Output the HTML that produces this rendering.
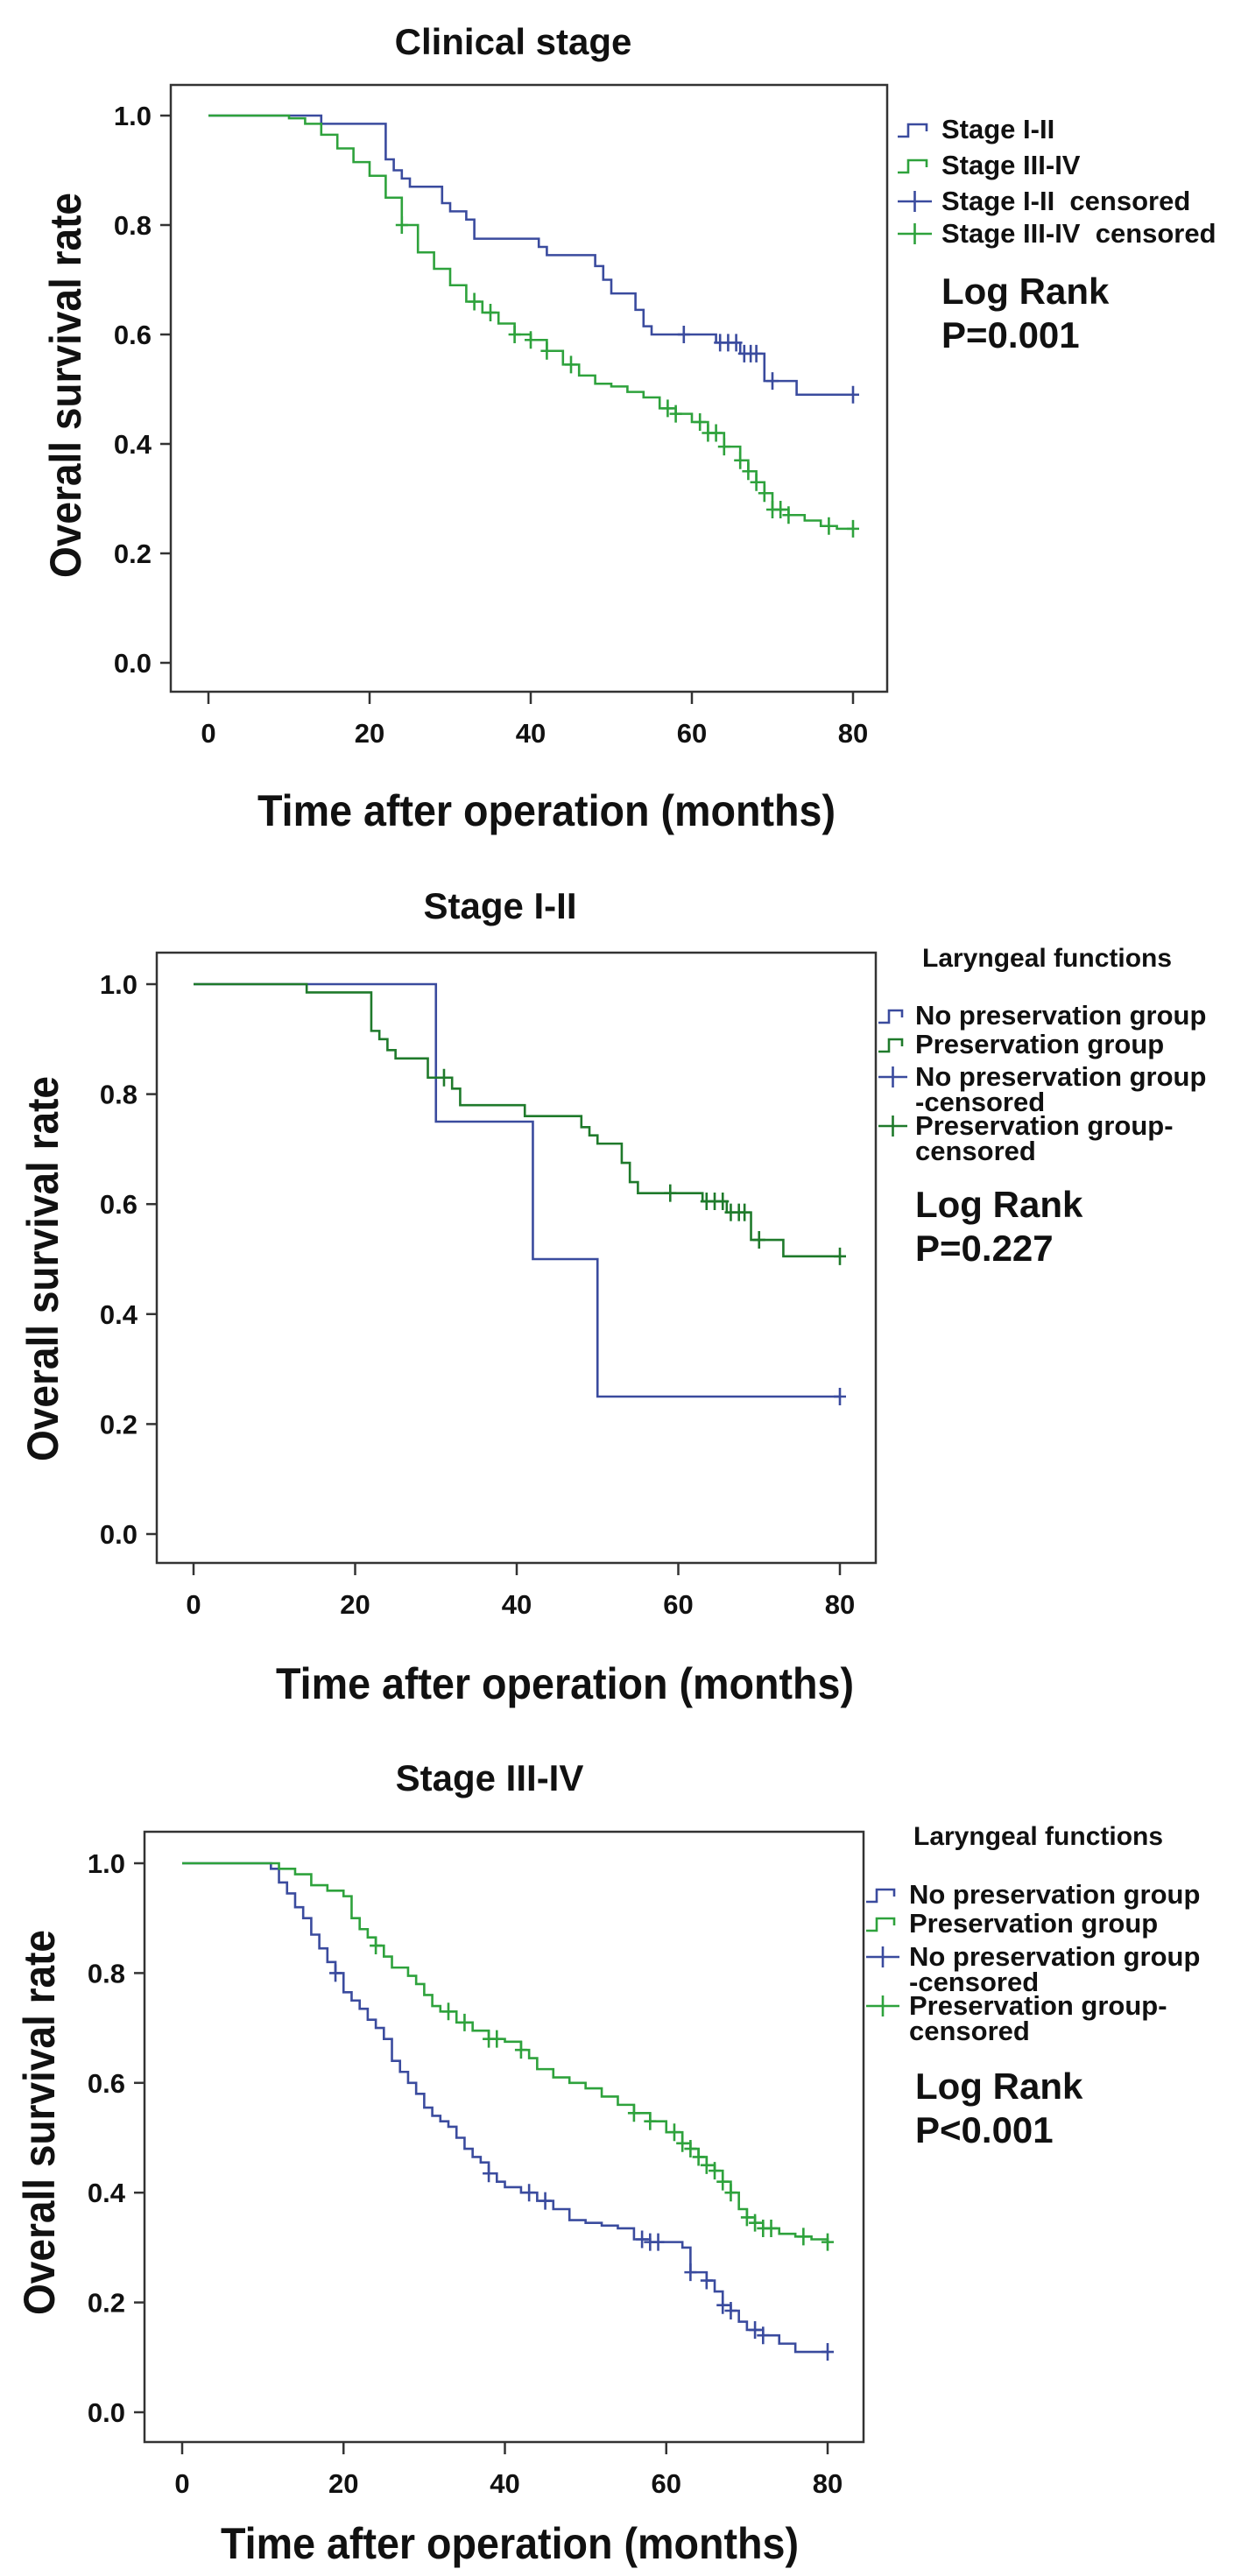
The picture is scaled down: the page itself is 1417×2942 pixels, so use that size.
<!DOCTYPE html>
<html><head><meta charset="utf-8"><style>
html,body{margin:0;padding:0;background:#fff}
svg{display:block}
text{font-family:"Liberation Sans Narrow","Liberation Sans",sans-serif;font-weight:bold;fill:#111}
.yt{font-family:"Liberation Sans",sans-serif}
</style></head><body>
<svg id="fig" width="1417" height="2942" viewBox="0 0 1417 2942" xmlns="http://www.w3.org/2000/svg"></svg>
<script>
// ---- Panel 1: Clinical stage ----
const p1StageIT=[0,14,22,23,24,25,29,30,32,33,41,42,48,49,50,53,54,55,63,66,69,73,80];
const p1StageIV=[1,0.985,0.92,0.90,0.885,0.87,0.84,0.825,0.81,0.775,0.76,0.745,0.725,0.70,0.675,0.645,0.615,0.60,0.585,0.565,0.515,0.49,0.49];
const p1StageICens=[59,63.5,64.5,65.5,66.5,67.3,68,70,80];
const p1StageIIIT=[0,8,10,12,14,16,18,20,22,24,26,28,30,32,34,36,38,40,42,44,46,48,50,52,54,56,58,60,62,64,66,67,68,69,70,72,74,76,78,80];
const p1StageIIIV=[1,1,0.995,0.985,0.965,0.94,0.915,0.89,0.85,0.80,0.75,0.72,0.69,0.66,0.64,0.62,0.60,0.59,0.57,0.545,0.525,0.51,0.505,0.495,0.485,0.465,0.455,0.44,0.42,0.395,0.37,0.35,0.33,0.31,0.28,0.27,0.26,0.25,0.245,0.245];
const p1StageIIICens=[24,33,35,38,40,42,45,57,58,61,62,63,64,66,67,68,69,70,71,72,77,80];
// ---- Panel 2: Stage I-II ----
const p2NoT=[0,30,42,50,80];
const p2NoV=[1,0.75,0.5,0.25,0.25];
const p2NoCens=[80];
const p2PresT=[0,14,22,23,24,25,29,32,33,41,48,49,50,53,54,55,63,66,69,73,80];
const p2PresV=[1,0.985,0.915,0.90,0.88,0.865,0.83,0.81,0.78,0.76,0.74,0.725,0.71,0.675,0.64,0.62,0.605,0.585,0.535,0.505,0.505];
const p2PresCens=[31,59,63.5,64.5,65.5,66.5,67.5,68.2,70,80];
// ---- Panel 3: Stage III-IV ----
const p3NoT=[0,10,11,12,13,14,15,16,17,18,19,20,21,22,23,24,25,26,27,28,29,30,31,32,33,34,35,36,37,38,39,40,42,44,46,48,50,52,54,56,58,62,63,65,66,67,68,69,70,72,74,76,80];
const p3NoV=[1,1,0.99,0.965,0.945,0.92,0.90,0.87,0.845,0.82,0.80,0.765,0.75,0.735,0.715,0.70,0.68,0.64,0.62,0.60,0.58,0.555,0.54,0.53,0.52,0.50,0.48,0.465,0.455,0.435,0.42,0.41,0.40,0.385,0.37,0.35,0.345,0.34,0.335,0.315,0.31,0.30,0.255,0.24,0.22,0.195,0.185,0.165,0.15,0.14,0.125,0.11,0.11];
const p3NoCens=[19,38,43,45,57,58,59,63,65,67,68,71,72,80];
const p3PresT=[0,10,12,14,16,18,20,21,22,23,24,25,26,28,29,30,31,32,34,36,38,40,42,43,44,46,48,50,52,54,56,58,60,62,63,64,65,66,67,68,69,70,71,72,74,76,78,80];
const p3PresV=[1,1,0.99,0.98,0.96,0.95,0.94,0.90,0.88,0.865,0.85,0.83,0.81,0.795,0.78,0.76,0.74,0.73,0.71,0.695,0.68,0.675,0.66,0.645,0.625,0.61,0.60,0.59,0.575,0.56,0.545,0.53,0.51,0.49,0.48,0.465,0.45,0.44,0.42,0.40,0.37,0.355,0.345,0.335,0.325,0.32,0.315,0.31];
const p3PresCens=[24,33,35,38,39,42,56,58,61,62,63,64,65,66,67,68,70,71,72,73,77,80];
const xTicks=[0,20,40,60,80];
const yTicks=[0,0.2,0.4,0.6,0.8,1.0];

const NS="http://www.w3.org/2000/svg";
const svg=document.getElementById('fig');
function mk(tag,attrs,parent){const e=document.createElementNS(NS,tag);for(const k in attrs)e.setAttribute(k,attrs[k]);(parent||svg).appendChild(e);return e;}
function txt(s,attrs,parent){const e=mk('text',attrs,parent);e.textContent=s;return e;}

function stepAt(T,V,t){let v=V[0];for(let i=0;i<T.length;i++){if(T[i]<=t)v=V[i];}return v;}

function panel(cfg){
  const g=mk('g',{});
  
  
  const sx=m=>cfg.x0+(m/80)*(cfg.x80-cfg.x0);
  const Y=v=>cfg.y0-(v)*(cfg.y0-cfg.y1);
  const fr=mk('rect',{x:cfg.L,y:cfg.T,width:cfg.R-cfg.L,height:cfg.B-cfg.T,fill:'none',stroke:'#333','stroke-width':2.5},g);
  
  
  const t=txt(cfg.title,{x:cfg.titleX,y:cfg.titleY,'text-anchor':'middle','font-size':42},g);
  
  
  yTicks.forEach(v=>{
    mk('line',{x1:cfg.L-12,x2:cfg.L,y1:Y(v),y2:Y(v),stroke:'#333','stroke-width':2.5},g);
    const l=txt(v.toFixed(1),{x:cfg.L-22,y:Y(v)+11,'text-anchor':'end','font-size':31},g);
    
    
  });
  xTicks.forEach(m=>{
    mk('line',{x1:sx(m),x2:sx(m),y1:cfg.B,y2:cfg.B+14,stroke:'#333','stroke-width':2.5},g);
    const l=txt(String(m),{x:sx(m),y:cfg.B+58,'text-anchor':'middle','font-size':31},g);
    
    
  });
  const yt=txt('Overall survival rate',{x:0,y:0,'text-anchor':'middle','font-size':50,'class':'yt',textLength:440,lengthAdjust:'spacingAndGlyphs',transform:`translate(${cfg.ytX},${cfg.ytY}) rotate(-90)`},g);
  
  
  const xt=txt('Time after operation (months)',{x:cfg.xtX,y:cfg.xtY,'text-anchor':'middle','font-size':50,textLength:660,lengthAdjust:'spacingAndGlyphs'},g);
  
  
  cfg.series.forEach(s=>{
    let d=`M${sx(s.T[0])},${Y(s.V[0])}`;
    for(let i=1;i<s.T.length;i++){d+=` H${sx(s.T[i])} V${Y(s.V[i])}`;}
    const p=mk('path',{d:d,fill:'none',stroke:s.color,'stroke-width':2.6},g);
    
    
    s.C.forEach(c=>{
      const v=stepAt(s.T,s.V,c);
      const cm=mk('path',{d:`M${sx(c)},${Y(v)-10} V${Y(v)+10} M${sx(c)-7},${Y(v)} H${sx(c)+7}`,stroke:s.color,'stroke-width':2.6},g);
      
      
    });
  });
  if(cfg.legTitle){
    const lt=txt(cfg.legTitle,{x:cfg.legTitleX,y:cfg.legTitleY,'font-size':30},g);
    
    
  }
  cfg.legend.forEach(e=>{
    const lg=mk('g',{},g);
    
    
    const ly=e.y-10;
    if(e.type==='line'){
      mk('path',{d:`M${cfg.legX0},${ly+8} H${cfg.legX0+12} V${ly-6} H${cfg.legX1-6} V${ly+2}`,fill:'none',stroke:e.color,'stroke-width':2.6},lg);
    }else{
      mk('path',{d:`M${cfg.legX0},${ly} H${cfg.legX1} M${(cfg.legX0+cfg.legX1)/2},${ly-12} V${ly+12}`,stroke:e.color,'stroke-width':2.6},lg);
    }
    e.lines.forEach((s,i)=>txt(s,{x:cfg.legTX,y:e.y+i*29,'font-size':31},lg));
  });
  const lr=txt('Log Rank',{x:cfg.lrX,y:cfg.lrY,'font-size':42},g);
  
  
  const pv=txt(cfg.p,{x:cfg.lrX,y:cfg.lrY+50,'font-size':42},g);
  
  
}
const BLUE='#3a4b9e', GREEN='#2ea23c', DGREEN='#1f7a2b';
panel({name:'clinical-stage-chart',title:'Clinical stage',titleX:586,titleY:62,L:195,R:1013,T:97,B:790,x0:238,x80:974,y0:757,y1:132,
 ytX:92,ytY:440,xtX:624,xtY:943,
 series:[{name:'stage-i-ii',T:p1StageIT,V:p1StageIV,C:p1StageICens,color:BLUE},{name:'stage-iii-iv',T:p1StageIIIT,V:p1StageIIIV,C:p1StageIIICens,color:GREEN}],
 legX0:1025,legX1:1064,legTX:1075,
 legend:[{type:'line',color:BLUE,y:158,lines:['Stage I-II']},{type:'line',color:GREEN,y:199,lines:['Stage III-IV']},{type:'cross',color:BLUE,y:240,lines:['Stage I-II\u00a0 censored']},{type:'cross',color:GREEN,y:277,lines:['Stage III-IV\u00a0 censored']}],
 lrX:1075,lrY:347,p:'P=0.001'});
panel({name:'stage-i-ii-chart',title:'Stage I-II',titleX:571,titleY:1049,L:179,R:1000,T:1088,B:1785,x0:221,x80:959,y0:1752,y1:1124,
 ytX:66,ytY:1449,xtX:645,xtY:1940,
 series:[{name:'no-preservation',T:p2NoT,V:p2NoV,C:p2NoCens,color:BLUE},{name:'preservation',T:p2PresT,V:p2PresV,C:p2PresCens,color:DGREEN}],
 legTitle:'Laryngeal functions',legTitleX:1053,legTitleY:1104,
 legX0:1003,legX1:1036,legTX:1045,
 legend:[{type:'line',color:BLUE,y:1170,lines:['No preservation group']},{type:'line',color:DGREEN,y:1203,lines:['Preservation group']},{type:'cross',color:BLUE,y:1240,lines:['No preservation group','-censored']},{type:'cross',color:DGREEN,y:1296,lines:['Preservation group-','censored']}],
 lrX:1045,lrY:1390,p:'P=0.227'});
panel({name:'stage-iii-iv-chart',title:'Stage III-IV',titleX:559,titleY:2045,L:165,R:986,T:2092,B:2789,x0:208,x80:945,y0:2755,y1:2128,
 ytX:62,ytY:2424,xtX:582,xtY:2922,
 series:[{name:'no-preservation',T:p3NoT,V:p3NoV,C:p3NoCens,color:BLUE},{name:'preservation',T:p3PresT,V:p3PresV,C:p3PresCens,color:GREEN}],
 legTitle:'Laryngeal functions',legTitleX:1043,legTitleY:2107,
 legX0:989,legX1:1027,legTX:1038,
 legend:[{type:'line',color:BLUE,y:2174,lines:['No preservation group']},{type:'line',color:GREEN,y:2207,lines:['Preservation group']},{type:'cross',color:BLUE,y:2245,lines:['No preservation group','-censored']},{type:'cross',color:GREEN,y:2301,lines:['Preservation group-','censored']}],
 lrX:1045,lrY:2397,p:'P<0.001'});
</script>
</body></html>
